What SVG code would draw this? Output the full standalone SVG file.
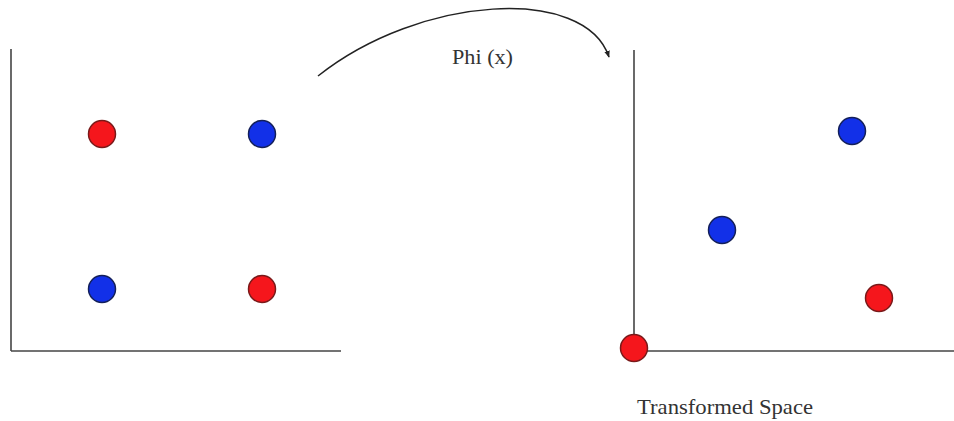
<svg xmlns="http://www.w3.org/2000/svg" width="954" height="421" viewBox="0 0 954 421">
<style>
.axis{stroke:#444;stroke-width:1.6;fill:none}
.red{fill:#f5161c;stroke:#7a1a1a;stroke-width:1.5}
.blue{fill:#1230e8;stroke:#14205a;stroke-width:1.5}
.lbl{font-family:"Liberation Serif",serif;font-size:21px;fill:#333}
.conn{stroke:#222;stroke-width:1.5;fill:none}
</style>
<defs>
<marker id="arr" viewBox="0 0 10 10" refX="9" refY="5" markerWidth="7" markerHeight="7" orient="auto" markerUnits="userSpaceOnUse">
<path d="M0,1 L10,5 L0,9 Z" fill="#222"/>
</marker>
</defs>
<rect width="954" height="421" fill="#fff"/>
<g id="input-space">
<line class="axis" x1="11" y1="49" x2="11" y2="351"/>
<line class="axis" x1="11" y1="351" x2="341" y2="351"/>
</g>
<g id="p1"><circle class="red" cx="102" cy="134" r="13.5"/></g>
<g id="p2"><circle class="blue" cx="262" cy="134" r="13.5"/></g>
<g id="p3"><circle class="blue" cx="102" cy="289" r="13.5"/></g>
<g id="p4"><circle class="red" cx="262" cy="289" r="13.5"/></g>
<g id="transformed-space">
<line class="axis" x1="634" y1="50" x2="634" y2="351"/>
<line class="axis" x1="634" y1="351" x2="954" y2="351"/>
<text class="lbl" x="637" y="414" textLength="176" lengthAdjust="spacingAndGlyphs">Transformed Space</text>
</g>
<g id="q1"><circle class="blue" cx="852" cy="131" r="13.5"/></g>
<g id="q2"><circle class="blue" cx="722" cy="230" r="13.5"/></g>
<g id="q3"><circle class="red" cx="879" cy="298" r="13.5"/></g>
<g id="q4"><circle class="red" cx="634" cy="348" r="13.5"/></g>
<g id="connectors">
<path class="conn" d="M318,76 C420,-5 585,-15 609,57" marker-end="url(#arr)"/>
<text class="lbl" x="452" y="64" textLength="61" lengthAdjust="spacingAndGlyphs">Phi (x)</text>
</g>
</svg>
